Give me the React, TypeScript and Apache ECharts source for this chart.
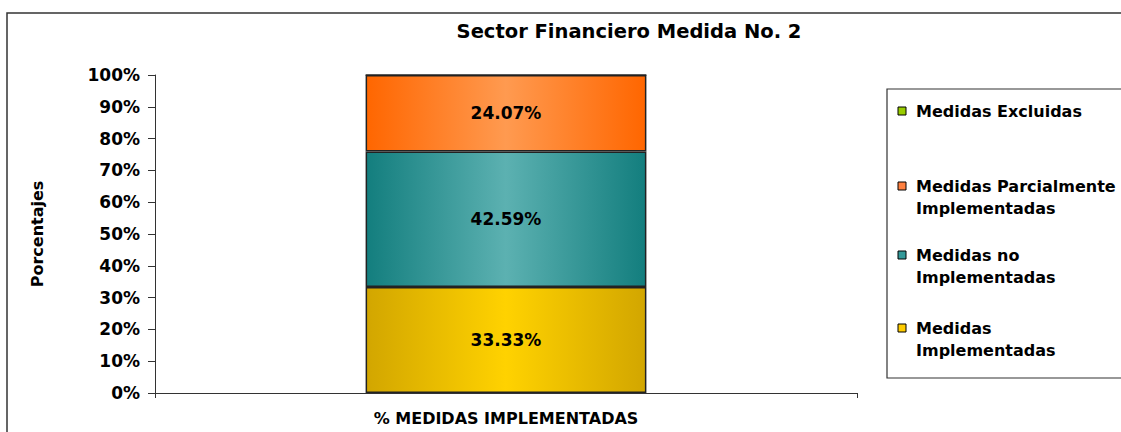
import React, { useEffect, useRef } from "react";
import * as echarts from "echarts";

const categories = ["% MEDIDAS IMPLEMENTADAS"];
const seriesNames = [
  "Medidas Implementadas",
  "Medidas no Implementadas",
  "Medidas Parcialmente Implementadas",
  "Medidas Excluidas",
];
const implementadas = [33.33];
const noImplementadas = [42.59];
const parcialmente = [24.07];
const excluidas = [0];
const yTicks = [0, 10, 20, 30, 40, 50, 60, 70, 80, 90, 100];

const legendItems = [
  { lines: ["Medidas Excluidas"], color: "#99CC00", y: 111 },
  { lines: ["Medidas Parcialmente", "Implementadas"], color: "#FF8040", y: 186 },
  { lines: ["Medidas no", "Implementadas"], color: "#339999", y: 255 },
  { lines: ["Medidas", "Implementadas"], color: "#FFCC00", y: 328 },
];

const grad = (edge: string, mid: string) =>
  new echarts.graphic.LinearGradient(0, 0, 1, 0, [
    { offset: 0, color: edge },
    { offset: 0.5, color: mid },
    { offset: 1, color: edge },
  ]);

export default function App() {
  const ref = useRef<HTMLDivElement>(null);
  useEffect(() => {
    document.body.style.margin = "0";
    const chart = echarts.init(ref.current!, null, { renderer: "svg" });
    const font = "'DejaVu Sans', sans-serif";
    const label = {
      show: true,
      position: "inside",
      formatter: (p: any) => (p.value > 0 ? p.value.toFixed(2) + "%" : ""),
      color: "#000",
      fontWeight: "bold",
      fontSize: 17,
      fontFamily: font,
    };
    const mk = (name: string, data: number[], edge: string, mid: string) => ({
      name,
      type: "bar",
      stack: "total",
      data,
      barWidth: "40%",
      itemStyle: { color: grad(edge, mid), borderColor: "#222", borderWidth: 1.5 },
      label,
    });
    const graphic: any[] = [
      {
        type: "rect",
        shape: { x: 7, y: 13, width: 1300, height: 600 },
        style: { fill: "none", stroke: "#333", lineWidth: 1.5 },
        silent: true,
      },
      {
        type: "text",
        x: 629,
        y: 31,
        style: {
          text: "Sector Financiero Medida No. 2",
          font: `bold 19.5px ${font}`,
          fill: "#000",
          align: "center",
          verticalAlign: "middle",
        },
      },
      {
        type: "rect",
        shape: { x: 887, y: 89, width: 400, height: 289 },
        style: { fill: "#fff", stroke: "#333", lineWidth: 1.2 },
      },
    ];
    legendItems.forEach((it) => {
      graphic.push({
        type: "rect",
        shape: { x: 898, y: it.y - 4, width: 8, height: 8 },
        style: { fill: it.color, stroke: "#000", lineWidth: 1 },
      });
      it.lines.forEach((ln, i) => {
        graphic.push({
          type: "text",
          x: 916,
          y: it.y + i * 22,
          style: {
            text: ln,
            font: `bold 16px ${font}`,
            fill: "#000",
            verticalAlign: "middle",
          },
        });
      });
    });
    chart.setOption({
      animation: false,
      grid: { left: 155, right: 264, top: 75, bottom: 39 },
      xAxis: {
        type: "category",
        data: categories,
        axisLine: { lineStyle: { color: "#333", width: 1 } },
        axisTick: { show: true, alignWithLabel: false, length: 5, lineStyle: { color: "#333" } },
        axisLabel: {
          color: "#000",
          fontWeight: "bold",
          fontSize: 16,
          fontFamily: font,
          margin: 17,
        },
      },
      yAxis: {
        type: "value",
        min: 0,
        max: 100,
        interval: 10,
        name: "Porcentajes",
        nameLocation: "middle",
        nameGap: 110,
        nameTextStyle: { color: "#000", fontWeight: "bold", fontSize: 16, fontFamily: font },
        axisLine: { show: true, lineStyle: { color: "#333" } },
        axisTick: { show: true, length: 7, inside: false, lineStyle: { color: "#333" } },
        splitLine: { show: false },
        axisLabel: {
          color: "#000",
          fontWeight: "bold",
          fontSize: 17,
          fontFamily: font,
          margin: 15,
          formatter: (v: number) => (yTicks.includes(v) ? v + "%" : ""),
        },
      },
      series: [
        mk(seriesNames[0], implementadas, "#D2A600", "#FFD200"),
        mk(seriesNames[1], noImplementadas, "#137E7E", "#5CB1B1"),
        mk(seriesNames[2], parcialmente, "#FF6600", "#FF9A50"),
        mk(seriesNames[3], excluidas, "#88BB00", "#B8E040"),
      ],
      graphic,
    });
    return () => chart.dispose();
  }, []);
  return <div ref={ref} style={{ width: 1121, height: 432 }} />;
}
